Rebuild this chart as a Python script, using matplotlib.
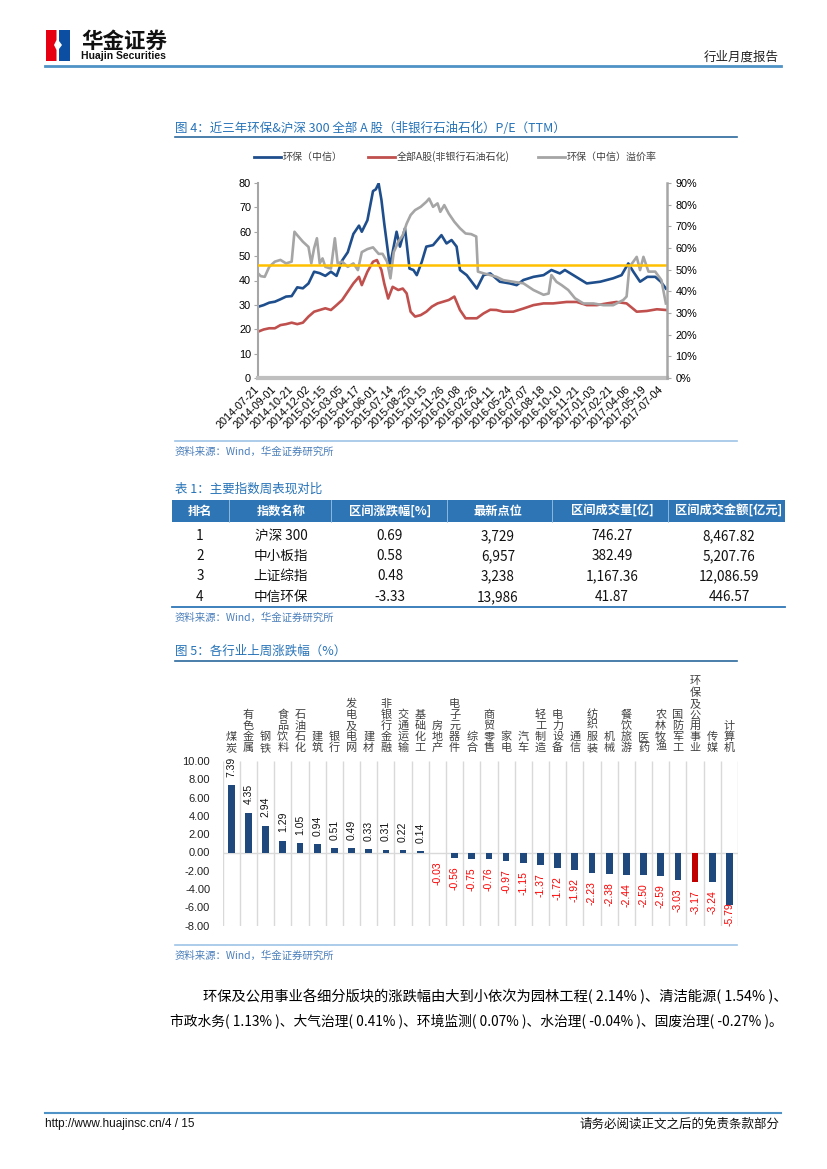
import numpy as np
import matplotlib
matplotlib.use('Agg')
import matplotlib.pyplot as plt
from matplotlib.patches import Rectangle, Polygon
from matplotlib.lines import Line2D

plt.rcParams['font.family'] = ['Liberation Sans', 'Noto Sans CJK SC', 'DejaVu Sans']
CJK = ['Noto Sans CJK SC', 'DejaVu Sans']

# ---------------- 图4 数据 (交易日序号, 数值) ----------------
date_labels = ['2014-07-21', '2014-09-01', '2014-10-21', '2014-12-02', '2015-01-15',
               '2015-03-05', '2015-04-17', '2015-06-01', '2015-07-14', '2015-08-25',
               '2015-10-15', '2015-11-26', '2016-01-08', '2016-02-26', '2016-04-11',
               '2016-05-24', '2016-07-07', '2016-08-18', '2016-10-10', '2016-11-21',
               '2017-01-03', '2017-02-21', '2017-04-06', '2017-05-19', '2017-07-04']

hb_idx = [0, 10, 20, 30, 40, 50, 60, 70, 80, 90, 100, 110, 120, 130, 140, 150, 160, 170,
          180, 185, 195, 205, 210, 215, 220, 225, 235, 247, 253, 262, 270, 277, 283, 292,
          300, 312, 327, 336, 345, 354, 360, 372, 390, 402, 414, 431, 449, 461, 473, 491,
          509, 523, 538, 547, 562, 586, 610, 633, 648, 660, 669, 681, 694, 708, 718, 727]
hb_pe = [29.2, 29.9, 30.9, 31.3, 32.3, 33.4, 33.6, 37.2, 36.8, 38.8, 43.6, 43.0, 41.9, 43.6,
         41.9, 48.2, 51.6, 59.1, 62.5, 60.0, 64.7, 76.7, 77.4, 79.8, 73.1, 63.4, 45.8, 60.0,
         53.9, 61.4, 44.9, 44.3, 42.2, 47.7, 53.9, 54.5, 58.6, 55.2, 56.6, 53.9, 44.3, 42.2,
         36.7, 42.2, 42.9, 39.5, 38.8, 38.1, 40.2, 41.5, 42.2, 44.3, 42.9, 44.3, 42.2, 38.8,
         39.5, 40.9, 42.2, 47.0, 43.6, 39.5, 41.5, 41.5, 39.5, 36.7]

qa_idx = [0, 10, 20, 30, 40, 50, 60, 70, 80, 90, 100, 110, 120, 130, 140, 150, 160, 170,
          180, 185, 195, 205, 212, 220, 225, 232, 240, 250, 258, 265, 272, 280, 290, 300,
          310, 320, 330, 340, 350, 360, 370, 390, 402, 414, 425, 437, 455, 473, 491, 509,
          526, 550, 568, 586, 604, 622, 639, 657, 675, 693, 711, 727]
qa_pe = [19.0, 19.9, 20.4, 20.4, 21.7, 22.1, 22.7, 22.1, 22.7, 25.2, 27.2, 27.9, 28.6, 27.9,
         29.9, 32.0, 35.4, 38.8, 41.5, 38.1, 43.6, 47.7, 48.4, 44.3, 38.8, 32.6, 37.4, 36.1,
         36.7, 34.7, 27.2, 25.2, 25.8, 27.2, 29.3, 30.6, 31.3, 32.0, 33.4, 27.9, 24.5, 24.5,
         26.5, 28.0, 27.9, 27.2, 27.2, 28.5, 29.9, 30.6, 30.6, 31.2, 31.2, 29.9, 29.9, 30.6,
         31.2, 30.6, 27.2, 27.5, 28.2, 27.9]

yj_idx = [0, 5, 12, 20, 30, 40, 50, 60, 65, 70, 80, 90, 95, 100, 105, 110, 115, 120, 130,
          137, 142, 150, 160, 170, 178, 185, 195, 205, 215, 222, 230, 236, 242, 250, 258,
          265, 272, 280, 290, 300, 305, 312, 320, 325, 332, 340, 350, 360, 370, 380, 389,
          392, 402, 414, 425, 437, 455, 473, 491, 509, 518, 523, 532, 541, 553, 565, 580,
          598, 616, 633, 651, 657, 662, 669, 675, 681, 687, 696, 708, 719, 727]
yj_pct = [48.3, 47.0, 46.7, 51.3, 53.7, 54.5, 52.9, 53.7, 67.5, 65.9, 62.9, 60.5, 52.9, 59.9,
          64.5, 52.9, 55.2, 51.3, 50.5, 64.5, 52.9, 53.7, 51.3, 52.9, 49.8, 58.1, 59.5, 60.3,
          57.3, 57.3, 53.7, 46.0, 58.1, 62.9, 65.9, 71.3, 75.2, 77.5, 79.0, 81.3, 82.8, 79.0,
          80.6, 76.7, 79.8, 75.9, 72.1, 69.1, 66.7, 66.4, 65.3, 49.1, 48.3, 47.5, 46.7, 45.2,
          44.4, 43.7, 40.6, 38.4, 39.0, 47.5, 44.4, 42.9, 40.6, 36.8, 34.4, 34.4, 33.6, 33.6,
          36.0, 37.6, 51.3, 53.7, 55.9, 49.8, 55.9, 49.1, 49.1, 45.2, 34.4]
yj_avg = 52.2

# ---------------- 表1 数据 ----------------
tb_head = ['排名', '指数名称', '区间涨跌幅[%]', '最新点位', '区间成交量[亿]', '区间成交金额[亿元]']
tb_rank = ['1', '2', '3', '4']
tb_name = ['沪深 300', '中小板指', '上证综指', '中信环保']
tb_chg = ['0.69', '0.58', '0.48', '-3.33']
tb_last = ['3,729', '6,957', '3,238', '13,986']
tb_vol = ['746.27', '382.49', '1,167.36', '41.87']
tb_amt = ['8,467.82', '5,207.76', '12,086.59', '446.57']

# ---------------- 图5 数据 ----------------
ind_names = ['煤炭', '有色金属', '钢铁', '食品饮料', '石油石化', '建筑', '银行', '发电及电网',
             '建材', '非银行金融', '交通运输', '基础化工', '房地产', '电子元器件', '综合',
             '商贸零售', '家电', '汽车', '轻工制造', '电力设备', '通信', '纺织服装', '机械',
             '餐饮旅游', '医药', '农林牧渔', '国防军工', '环保及公用事业', '传媒', '计算机']
ind_chg = [7.39, 4.35, 2.94, 1.29, 1.05, 0.94, 0.51, 0.49, 0.33, 0.31, 0.22, 0.14, -0.03,
           -0.56, -0.75, -0.76, -0.97, -1.15, -1.37, -1.72, -1.92, -2.23, -2.38, -2.44,
           -2.50, -2.59, -3.03, -3.17, -3.24, -5.79]

para1 = '环保及公用事业各细分版块的涨跌幅由大到小依次为园林工程( 2.14% )、清洁能源( 1.54% )、'
para2 = '市政水务( 1.13% )、大气治理( 0.41% )、环境监测( 0.07% )、水治理( -0.04% )、固废治理( -0.27% )。'

W, H = 827, 1169
fig = plt.figure(figsize=(8.27, 11.69), dpi=100)


def fx(x):
    return x / W


def fy(y):
    return 1 - y / H


def txt(x, y, s, **kw):
    kw.setdefault('family', CJK)
    kw.setdefault('va', 'center')
    fig.text(fx(x), fy(y), s, **kw)


def hline(x0, x1, y, color, lw):
    fig.add_artist(Line2D([fx(x0), fx(x1)], [fy(y), fy(y)], color=color, lw=lw,
                          transform=fig.transFigure))


def box(x0, y0, x1, y1, color):
    fig.add_artist(Rectangle((fx(x0), fy(y1)), fx(x1) - fx(x0), fy(y0) - fy(y1),
                             color=color, transform=fig.transFigure, lw=0))


# ---------------- 页眉 ----------------
box(46, 30, 58, 61, '#E60012')
box(58, 30, 70, 61, '#0B4EA2')
fig.add_artist(Polygon([(fx(56.5), fy(30)), (fx(59), fy(30)), (fx(59), fy(41)), (fx(62), fy(45)),
                        (fx(59), fy(49)), (fx(59), fy(61)), (fx(56.5), fy(61)), (fx(56.5), fy(50)),
                        (fx(54), fy(45)), (fx(56.5), fy(40))],
                       closed=True, color='white', transform=fig.transFigure, lw=0))
txt(81, 41, '华金证券', fontsize=15.5, fontweight='bold', color='#111111')
txt(81, 56, 'Huajin Securities', fontsize=7.5, fontweight='bold', color='#111111',
    family=['Liberation Sans'])
txt(779, 57, '行业月度报告', fontsize=9, ha='right', color='#222222')
hline(45, 781, 66, '#4F93C6', 2)

# ---------------- 图4 ----------------
blue_t = '#2673B8'
txt(175, 128, '图 4：近三年环保&沪深 300 全部 A 股（非银行石油石化）P/E（TTM）', fontsize=9, color=blue_t)
hline(175, 737, 137, '#2B6A9C', 1.2)

leg = [('环保（中信）', '#1F4E8C', 254), ('全部A股(非银行石油石化)', '#C0504D', 368),
       ('环保（中信）溢价率', '#A5A5A5', 538)]
for lab, col, x0 in leg:
    hline(x0, x0 + 27, 157, col, 2)
    txt(x0 + 29, 157, lab, fontsize=7.2, color='#404040')

ax = fig.add_axes([fx(258), fy(378), (667 - 258) / W, (378 - 183) / H])
ax.plot(hb_idx, hb_pe, color='#1F4E8C', lw=1.9)
ax.plot(qa_idx, qa_pe, color='#C0504D', lw=1.9)
ax.set_xlim(0, 729)
ax.set_ylim(0, 80)
ax.set_yticks(range(0, 81, 10))
ax.set_xticks(range(0, 721, 30))
ax.set_xticklabels(date_labels, rotation=45, ha='right', va='center', rotation_mode='anchor')
ax.tick_params(axis='x', length=0, labelsize=7.8, pad=7)
ax.tick_params(axis='y', length=3, color='#A6A6A6', labelsize=7.8, pad=2)
ax.spines['top'].set_visible(False)
ax.spines['right'].set_visible(False)
ax.spines['left'].set_color('#A6A6A6')
ax.spines['left'].set_linewidth(1.5)
ax.spines['bottom'].set_color('#BFBFBF')
ax.spines['bottom'].set_linewidth(3)

ax2 = ax.twinx()
ax2.plot(yj_idx, yj_pct, color='#A5A5A5', lw=1.9)
ax2.axhline(yj_avg, color='#FFC000', lw=1.8)
ax2.set_ylim(0, 90)
ax2.set_yticks(range(0, 91, 10))
ax2.set_yticklabels([f'{v}%' for v in range(0, 91, 10)])
ax2.tick_params(axis='y', length=3, color='#A6A6A6', labelsize=7.8, pad=3)
for s in ['top', 'left', 'bottom']:
    ax2.spines[s].set_visible(False)
ax2.spines['right'].set_color('#A6A6A6')
ax2.spines['right'].set_linewidth(1.8)

hline(175, 737, 441, '#9DC3E6', 1.2)
txt(175, 452, '资料来源：Wind，华金证券研究所', fontsize=7.5, color='#4A7EBB')

# ---------------- 表1 ----------------
txt(175, 489, '表 1：主要指数周表现对比', fontsize=9, color=blue_t)
box(172, 500, 785, 522, '#2E75B6')
col_x = [200, 281, 390, 498, 612, 729]
for xb in [229, 331, 447, 552, 668]:
    fig.add_artist(Line2D([fx(xb), fx(xb)], [fy(500), fy(522)], color='#9DC3E6', lw=0.6,
                          transform=fig.transFigure))
for s, x in zip(tb_head, col_x):
    txt(x, 511, s, fontsize=8.8, fontweight='bold', color='white', ha='center')
row_y = [536, 556, 576, 597]
for i, y in enumerate(row_y):
    for s, x in zip([tb_rank[i], tb_name[i], tb_chg[i], tb_last[i], tb_vol[i], tb_amt[i]], col_x):
        txt(x, y, s, fontsize=9.8, color='#111111', ha='center')
hline(172, 785, 607, '#2E75B6', 1.3)
txt(175, 618, '资料来源：Wind，华金证券研究所', fontsize=7.5, color='#4A7EBB')

# ---------------- 图5 ----------------
txt(175, 651, '图 5：各行业上周涨跌幅（%）', fontsize=9, color=blue_t)
hline(175, 737, 661, '#2B6A9C', 1.2)

ax5 = fig.add_axes([fx(222.7), fy(925.7), 515.3 / W, 164.7 / H])
xs = np.arange(len(ind_names))
bar_cols = ['#C00000' if n == '环保及公用事业' else '#1F497D' for n in ind_names]
ax5.bar(xs, ind_chg, width=0.39, color=bar_cols, zorder=2)
ax5.set_xlim(-0.5, len(ind_names) - 0.5)
ax5.set_ylim(-8, 10)
ax5.vlines(np.arange(-0.5, len(ind_names), 1), -8, 10, color='#D9D9D9', lw=1, zorder=0)
ax5.axhline(0, color='#D9D9D9', lw=1, zorder=1)
for s in ax5.spines.values():
    s.set_visible(False)
ax5.set_xticks([])
ax5.set_yticks(range(-8, 11, 2))
ax5.set_yticklabels([f'{v:.2f}' for v in range(-8, 11, 2)])
ax5.tick_params(axis='y', length=0, labelsize=8, pad=9, labelcolor='#222222')

for i, v in enumerate(ind_chg):
    lab = f'{v:.2f}'
    if v >= 0:
        ax5.annotate(lab, (i, v), xytext=(0, 6), textcoords='offset points', rotation=90,
                     ha='center', va='bottom', fontsize=7.5, color='#111111')
    elif v < -5:
        ax5.annotate(lab, (i, -8), xytext=(0, 0), textcoords='offset points', rotation=90,
                     ha='center', va='bottom', fontsize=7.5, color='#FF0000')
    else:
        ax5.annotate(lab, (i, v), xytext=(0, -6), textcoords='offset points', rotation=90,
                     ha='center', va='top', fontsize=7.5, color='#FF0000')

for i, n in enumerate(ind_names):
    chars = list(n)[::-1]
    for k, ch in enumerate(chars):
        ax5.annotate(ch, (i, 1), xycoords=('data', 'axes fraction'),
                     xytext=(0, (13 + 11.1 * k) * 0.72), textcoords='offset points',
                     ha='center', va='center', fontsize=8, color='#404040', family=CJK)

hline(175, 737, 945, '#9DC3E6', 1.2)
txt(175, 956, '资料来源：Wind，华金证券研究所', fontsize=7.5, color='#4A7EBB')

# ---------------- 正文 ----------------
txt(203, 997, para1, fontsize=10.3, color='#000000')
txt(170, 1022, para2, fontsize=9.9, color='#000000')

# ---------------- 页脚 ----------------
hline(45, 781, 1113, '#4F93C6', 1.5)
txt(45, 1124, 'http://www.huajinsc.cn/4 / 15', fontsize=8.5, color='#111111',
    family=['Liberation Sans'])
txt(779, 1124, '请务必阅读正文之后的免责条款部分', fontsize=9, ha='right', color='#111111')

fig.savefig('out.png', dpi=100)
